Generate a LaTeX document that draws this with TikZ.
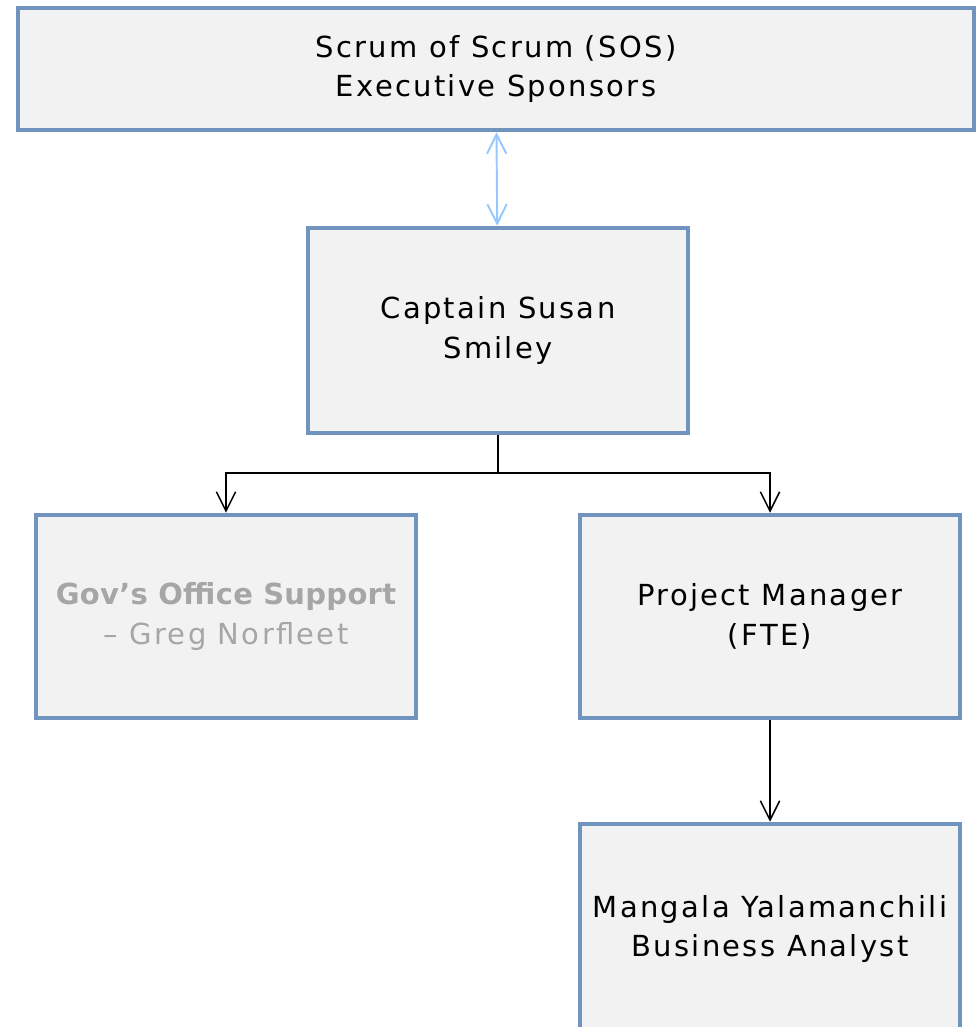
\documentclass[tikz,border=0pt]{standalone}
\usepackage{fontspec}
\setmainfont{DejaVu Sans}[LetterSpace=8, BoldFeatures={LetterSpace=1}]
\usepackage{tikz}
\usetikzlibrary{arrows.meta,positioning,calc}
\usepackage{xcolor}
\definecolor{boxblue}{RGB}{112,148,190}
\definecolor{boxfill}{RGB}{242,242,242}
\definecolor{linkblue}{RGB}{150,200,255}
\definecolor{dimtext}{RGB}{166,166,166}

\tikzset{
  orgbox/.style={draw=boxblue, fill=boxfill, line width=2.6pt, inner sep=0pt,
    align=center, font=\fontsize{16.5}{22.5}\selectfont},
  downlink/.style={-{Straight Barb[length=11pt,width=11pt]}, line width=0.85pt, black},
}

\begin{document}
\begin{tikzpicture}[x=0.02cm, y=-0.02cm]
            \useasboundingbox (0,0) rectangle (978,1027);

            % --- Sponsors ---
            \node[orgbox, minimum width=19.12cm, minimum height=2.44cm] (sos) at (496,69)
                {Scrum of Scrum (SOS)\\Executive Sponsors};

            % --- Captain ---
            \node[orgbox, minimum width=7.6cm, minimum height=4.1cm] (captain) at (498,330.5)
                {Captain Susan\\Smiley};

            % --- Second row ---
            \node[orgbox, minimum width=7.6cm, minimum height=4.06cm, text=dimtext] (gov) at (226,616.5)
                {\bfseries Gov’s Office Support\\– Greg Norfleet};
            \node[orgbox, minimum width=7.6cm, minimum height=4.06cm] (pm) at (770,616.5)
                {Project Manager\\(FTE)};

            % --- Analyst (runs off the page) ---
            \node[orgbox, minimum width=7.6cm, minimum height=4.2cm] (ba) at (770,929)
                {Mangala Yalamanchili\\Business Analyst};

            % Two-way link to sponsors
            \draw[{Straight Barb[length=11pt,width=11pt]}-{Straight Barb[length=11pt,width=11pt]},
                  linkblue, line width=1.1pt] (sos) -- (captain);

            % Reporting lines
            \coordinate (split) at (498,473);
            \draw[line width=0.85pt] (captain.south) -- (split);
            \draw[downlink] (split) -| (gov.north);
            \draw[downlink] (split) -| (pm.north);
            \draw[downlink] (pm) -- (ba);
\end{tikzpicture}
\end{document}
